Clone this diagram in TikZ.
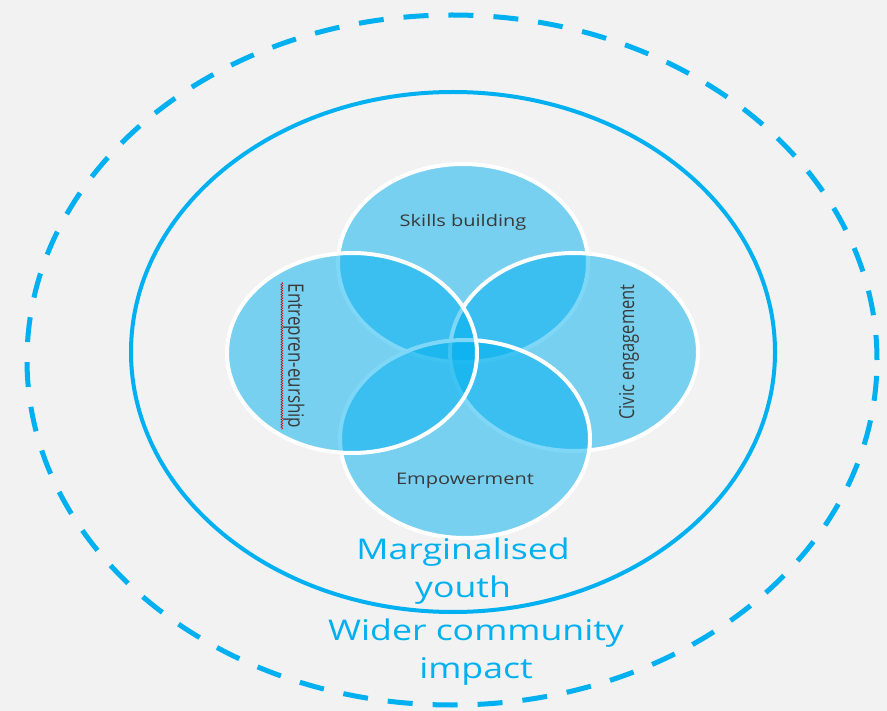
\documentclass[tikz,border=0pt]{standalone}
\usepackage{fontspec}
\setmainfont{Open Sans}
\usetikzlibrary{decorations.pathmorphing}

\definecolor{sky}{HTML}{00B0F0}
\definecolor{paper}{HTML}{F2F2F2}
\definecolor{ink}{HTML}{3A3A3A}

\begin{document}
\begin{tikzpicture}[x=1pt,y=-1pt,
    ring/.style={draw=sky,line width=4pt},
    petal/.style={fill=sky,fill opacity=0.5,draw=white,line width=4pt},
    petaltext/.style={text=ink,inner sep=1pt,xscale=1.25,font=\fontsize{16}{18}\selectfont},
    outertext/.style={text=sky,align=center,xscale=1.25,font=\fontsize{28.5}{38.5}\selectfont}]
  \fill[paper] (0,0) rectangle (887,711);

  \draw[sky,line width=5pt,dash pattern=on 25pt off 20pt]
    (452,360) ellipse [x radius=425pt, y radius=345pt];
  \draw[ring] (453,352) ellipse [x radius=322pt, y radius=260pt];

  \path[petal] (463,263) ellipse [x radius=125pt, y radius=99pt];
  \path[petal] (574,352) ellipse [x radius=124pt, y radius=99pt];
  \path[petal] (465,439) ellipse [x radius=125pt, y radius=99pt];
  \path[petal] (352,353) ellipse [x radius=125pt, y radius=100pt];

  \node[petaltext] (skills) at (463,222) {Skills building};
  \node[petaltext] (empower) at (465,481) {Empowerment};
  \node[petaltext,font=\fontsize{16.5}{18}\selectfont,rotate=90] (civic) at (629,352) {Civic engagement};
  \node[petaltext,font=\fontsize{17}{18}\selectfont,rotate=-90] (entre) at (294,356) {Entrepren-eurship};
  \draw[red!85!black,line width=0.6pt,decorate,
        decoration={snake,amplitude=0.9pt,segment length=2.5pt}]
    (entre.south west) -- (entre.south east);

  \node[outertext] (youth) at (463,571) {Marginalised\\youth};
  \node[outertext] (impact) at (476,652) {Wider community\\impact};
\end{tikzpicture}
\end{document}
